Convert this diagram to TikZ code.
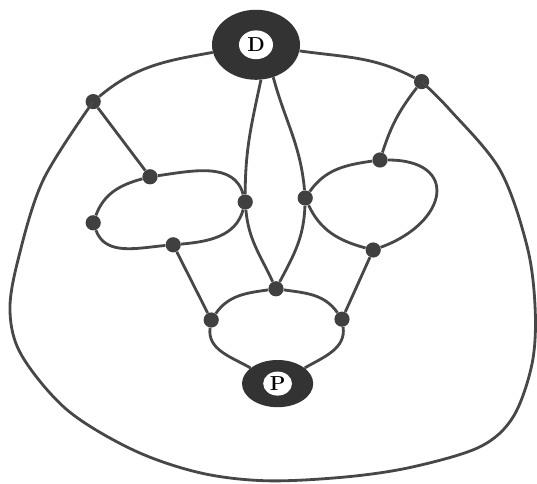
\documentclass[tikz,border=0pt]{standalone}
\usepackage{tikz}
\usetikzlibrary{shapes.geometric}

\begin{document}
\begin{tikzpicture}[
    vertex/.style={circle, fill=black!75, inner sep=0pt, minimum size=0.38cm},
    terminal/.style={ellipse, fill=black!80, inner sep=0pt},
    hole/.style={ellipse, fill=white, inner sep=0.5pt, font=\Large\bfseries},
    wire/.style={draw=black!72, line width=2pt},
]
  \useasboundingbox (0,0) rectangle (13.425,12.1);

  % terminals
  \node[terminal, minimum width=2.2cm, minimum height=1.75cm,
        label={[hole, minimum width=0.85cm, minimum height=0.72cm]center:D}] (D) at (6.4,10.98) {};
  \node[terminal, minimum width=1.78cm, minimum height=1.18cm,
        label={[hole, minimum width=0.72cm, minimum height=0.6cm]center:P}] (P) at (6.94,2.51) {};

  % vertices
  \node[vertex] (v1) at (2.33,9.56) {};
  \node[vertex] (v2) at (10.54,10.06) {};
  \node[vertex] (v3) at (3.75,7.68) {};
  \node[vertex] (v4) at (9.5,8.1) {};
  \node[vertex] (v5) at (2.33,6.53) {};
  \node[vertex] (v6) at (6.13,7.05) {};
  \node[vertex] (v7) at (7.63,7.15) {};
  \node[vertex] (v8) at (4.33,5.98) {};
  \node[vertex] (v9) at (9.33,5.85) {};
  \node[vertex] (v10) at (6.9,4.88) {};
  \node[vertex] (v11) at (5.28,4.1) {};
  \node[vertex] (v12) at (8.55,4.12) {};

  % outer face
  \draw[wire] (D) to[out=190, in=40] (v1);
  \draw[wire] (v2) to[out=152, in=-8] (D);
  \draw[wire] plot[smooth, tension=0.55] coordinates {(v1) (1.08,7.6) (0.45,5.6) (0.25,4.3)
      (0.55,3.2) (1.68,1.85) (3.33,0.85) (5.0,0.28) (6.68,0.08) (8.68,0.18) (10.33,0.43)
      (12.0,0.93) (12.83,1.68) (13.3,3.0) (13.38,4.35) (13.18,5.93) (12.5,7.85) (11.25,9.35) (v2)};

  % spokes
  \draw[wire] (v1) -- (v3);
  \draw[wire] (v2) to[bend right=10] (v4);
  \draw[wire] (v8) -- (v11);
  \draw[wire] (v9) -- (v12);

  % left loop
  \draw[wire] (v3) to[out=8, in=105] (v6);
  \draw[wire] (v6) to[out=255, in=5] (v8);
  \draw[wire] (v8) to[out=185, in=290] (v5);
  \draw[wire] (v5) to[out=70, in=195] (v3);

  % right loop
  \draw[wire] (v7) to[out=55, in=188] (v4);
  \draw[wire] (v4) .. controls +(0:2) and +(20:2) .. (v9);
  \draw[wire] (v9) to[out=165, in=-65] (v7);

  % middle loop
  \draw[wire] (D.278) to[out=258, in=90] (v6);
  \draw[wire] (v6) to[out=275, in=115] (v10);
  \draw[wire] (v10) to[out=62, in=268] (v7);
  \draw[wire] (v7) to[out=95, in=285] (D.298);

  % bottom loop
  \draw[wire] (v10) to[out=188, in=55] (v11);
  \draw[wire] (v11) to[out=262, in=150] (P);
  \draw[wire] (v10) to[out=-8, in=125] (v12);
  \draw[wire] (v12) to[out=278, in=30] (P);
\end{tikzpicture}
\end{document}
